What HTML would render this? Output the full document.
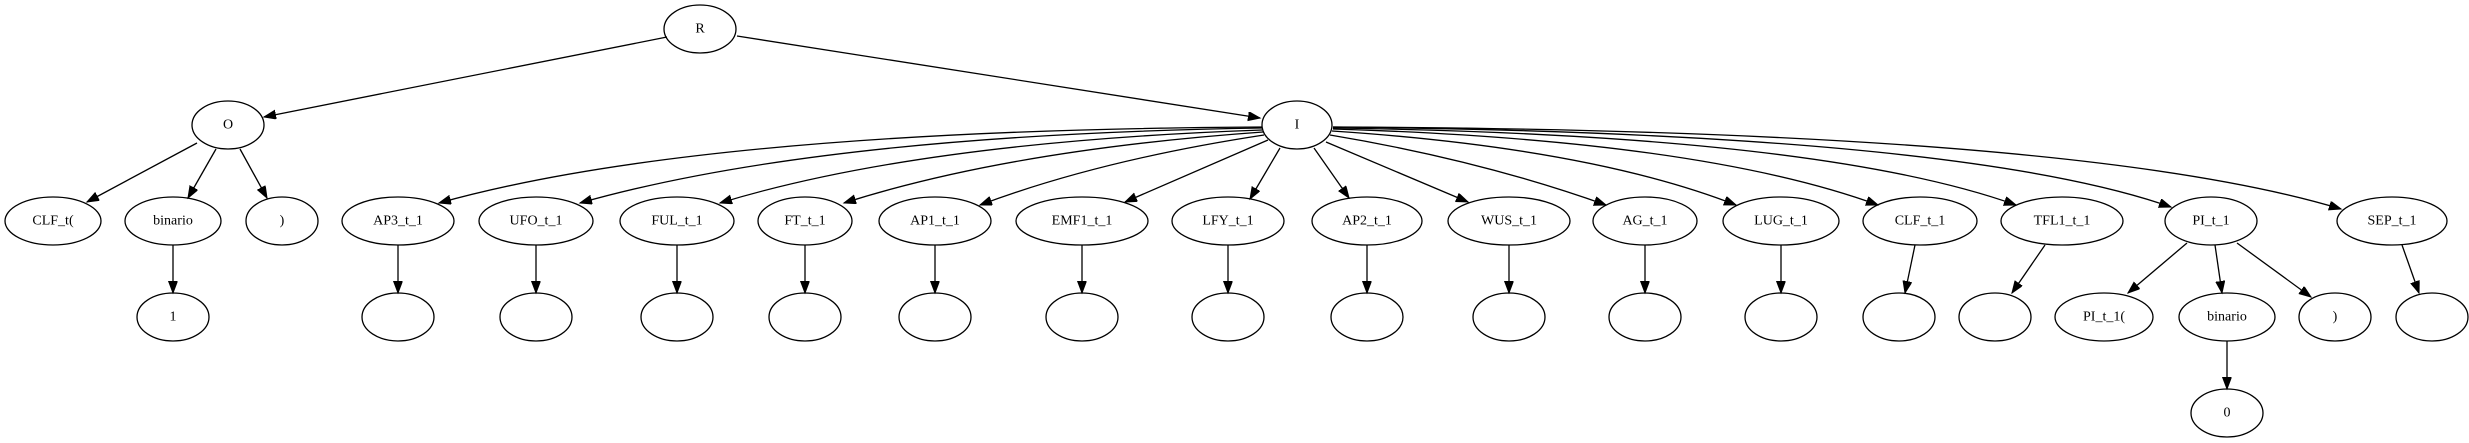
<!DOCTYPE html>
<html><head><meta charset="utf-8"><style>
html,body{margin:0;padding:0;background:#fff;}
svg{display:block;}
text{font-family:"Liberation Serif",serif;font-size:14px;text-anchor:middle;dominant-baseline:central;fill:#000;}
ellipse{fill:none;stroke:#000;stroke-width:1.3;}
path,line{fill:none;stroke:#000;stroke-width:1.3;}
</style></head><body>
<svg width="2469" height="443" viewBox="0 0 2469 443" xmlns="http://www.w3.org/2000/svg">
<defs><marker id="a" markerUnits="userSpaceOnUse" markerWidth="14" markerHeight="10" refX="12" refY="4.5" orient="auto"><path d="M0,0 L12,4.5 L0,9 z" style="fill:#000;stroke:#000;stroke-width:1"/></marker></defs>
<g marker-end="url(#a)">
<line x1="667" y1="37" x2="264" y2="117"/>
<line x1="737" y1="36" x2="1260" y2="118"/>
<line x1="197" y1="143" x2="87" y2="202"/>
<line x1="216" y1="149" x2="188" y2="198"/>
<line x1="240" y1="149" x2="267" y2="198"/>
<line x1="173" y1="245" x2="173" y2="293"/>
<path d="M1262,127 Q700,130 439,203"/>
<path d="M1262,128 Q820,135 580,203"/>
<path d="M1262,130 Q920,142 720,203"/>
<path d="M1263,132 Q1010,150 844,203"/>
<path d="M1264,135 Q1100,160 980,205"/>
<line x1="1268" y1="140" x2="1125" y2="202"/>
<line x1="1280" y1="148" x2="1250" y2="199"/>
<line x1="1314" y1="148" x2="1349" y2="198"/>
<line x1="1326" y1="142" x2="1468" y2="202"/>
<path d="M1330,135 Q1480,160 1606,205"/>
<path d="M1332,131 Q1590,148 1736,205"/>
<path d="M1333,129 Q1700,140 1878,205"/>
<path d="M1333,128 Q1820,135 2016,205"/>
<path d="M1333,127 Q1960,133 2171,207"/>
<path d="M1333,127 Q2080,130 2341,209"/>
<line x1="398" y1="245" x2="398" y2="293"/>
<line x1="536" y1="245" x2="536" y2="293"/>
<line x1="677" y1="245" x2="677" y2="293"/>
<line x1="805" y1="245" x2="805" y2="293"/>
<line x1="935" y1="245" x2="935" y2="293"/>
<line x1="1082" y1="245" x2="1082" y2="293"/>
<line x1="1228" y1="245" x2="1228" y2="293"/>
<line x1="1367" y1="245" x2="1367" y2="293"/>
<line x1="1509" y1="245" x2="1509" y2="293"/>
<line x1="1645" y1="245" x2="1645" y2="293"/>
<line x1="1781" y1="245" x2="1781" y2="293"/>
<line x1="1915" y1="245" x2="1905" y2="293"/>
<line x1="2045" y1="245" x2="2012" y2="293"/>
<line x1="2187" y1="243" x2="2128" y2="293"/>
<line x1="2215" y1="245" x2="2222" y2="293"/>
<line x1="2237" y1="243" x2="2311" y2="297"/>
<line x1="2402" y1="245" x2="2419" y2="293"/>
<line x1="2227" y1="341" x2="2227" y2="389"/>
</g>
<ellipse cx="700" cy="29" rx="36" ry="24"/><text x="700" y="29">R</text>
<ellipse cx="228" cy="125" rx="36" ry="24"/><text x="228" y="125">O</text>
<ellipse cx="1297" cy="125" rx="35" ry="24"/><text x="1297" y="125">I</text>
<ellipse cx="53" cy="221" rx="48" ry="24"/><text x="53" y="221">CLF_t(</text>
<ellipse cx="173" cy="221" rx="48" ry="24"/><text x="173" y="221">binario</text>
<ellipse cx="282" cy="221" rx="36" ry="24"/><text x="282" y="221">)</text>
<ellipse cx="398" cy="221" rx="56" ry="24"/><text x="398" y="221">AP3_t_1</text>
<ellipse cx="536" cy="221" rx="57" ry="24"/><text x="536" y="221">UFO_t_1</text>
<ellipse cx="677" cy="221" rx="57" ry="24"/><text x="677" y="221">FUL_t_1</text>
<ellipse cx="805" cy="221" rx="47" ry="24"/><text x="805" y="221">FT_t_1</text>
<ellipse cx="935" cy="221" rx="56" ry="24"/><text x="935" y="221">AP1_t_1</text>
<ellipse cx="1082" cy="221" rx="66" ry="24"/><text x="1082" y="221">EMF1_t_1</text>
<ellipse cx="1228" cy="221" rx="56" ry="24"/><text x="1228" y="221">LFY_t_1</text>
<ellipse cx="1367" cy="221" rx="55" ry="24"/><text x="1367" y="221">AP2_t_1</text>
<ellipse cx="1509" cy="221" rx="61" ry="24"/><text x="1509" y="221">WUS_t_1</text>
<ellipse cx="1645" cy="221" rx="52" ry="24"/><text x="1645" y="221">AG_t_1</text>
<ellipse cx="1781" cy="221" rx="58" ry="24"/><text x="1781" y="221">LUG_t_1</text>
<ellipse cx="1920" cy="221" rx="57" ry="24"/><text x="1920" y="221">CLF_t_1</text>
<ellipse cx="2062" cy="221" rx="61" ry="24"/><text x="2062" y="221">TFL1_t_1</text>
<ellipse cx="2211" cy="221" rx="46" ry="24"/><text x="2211" y="221">PI_t_1</text>
<ellipse cx="2392" cy="221" rx="55" ry="24"/><text x="2392" y="221">SEP_t_1</text>
<ellipse cx="173" cy="317" rx="36" ry="24"/><text x="173" y="317">1</text>
<ellipse cx="398" cy="317" rx="36" ry="24"/>
<ellipse cx="536" cy="317" rx="36" ry="24"/>
<ellipse cx="677" cy="317" rx="36" ry="24"/>
<ellipse cx="805" cy="317" rx="36" ry="24"/>
<ellipse cx="935" cy="317" rx="36" ry="24"/>
<ellipse cx="1082" cy="317" rx="36" ry="24"/>
<ellipse cx="1228" cy="317" rx="36" ry="24"/>
<ellipse cx="1367" cy="317" rx="36" ry="24"/>
<ellipse cx="1509" cy="317" rx="36" ry="24"/>
<ellipse cx="1645" cy="317" rx="36" ry="24"/>
<ellipse cx="1781" cy="317" rx="36" ry="24"/>
<ellipse cx="1899" cy="317" rx="36" ry="24"/>
<ellipse cx="1995" cy="317" rx="36" ry="24"/>
<ellipse cx="2104" cy="317" rx="49" ry="24"/><text x="2104" y="317">PI_t_1(</text>
<ellipse cx="2227" cy="317" rx="48" ry="24"/><text x="2227" y="317">binario</text>
<ellipse cx="2335" cy="317" rx="36" ry="24"/><text x="2335" y="317">)</text>
<ellipse cx="2432" cy="317" rx="36" ry="24"/>
<ellipse cx="2227" cy="413" rx="36" ry="24"/><text x="2227" y="413">0</text>
</svg>
</body></html>
